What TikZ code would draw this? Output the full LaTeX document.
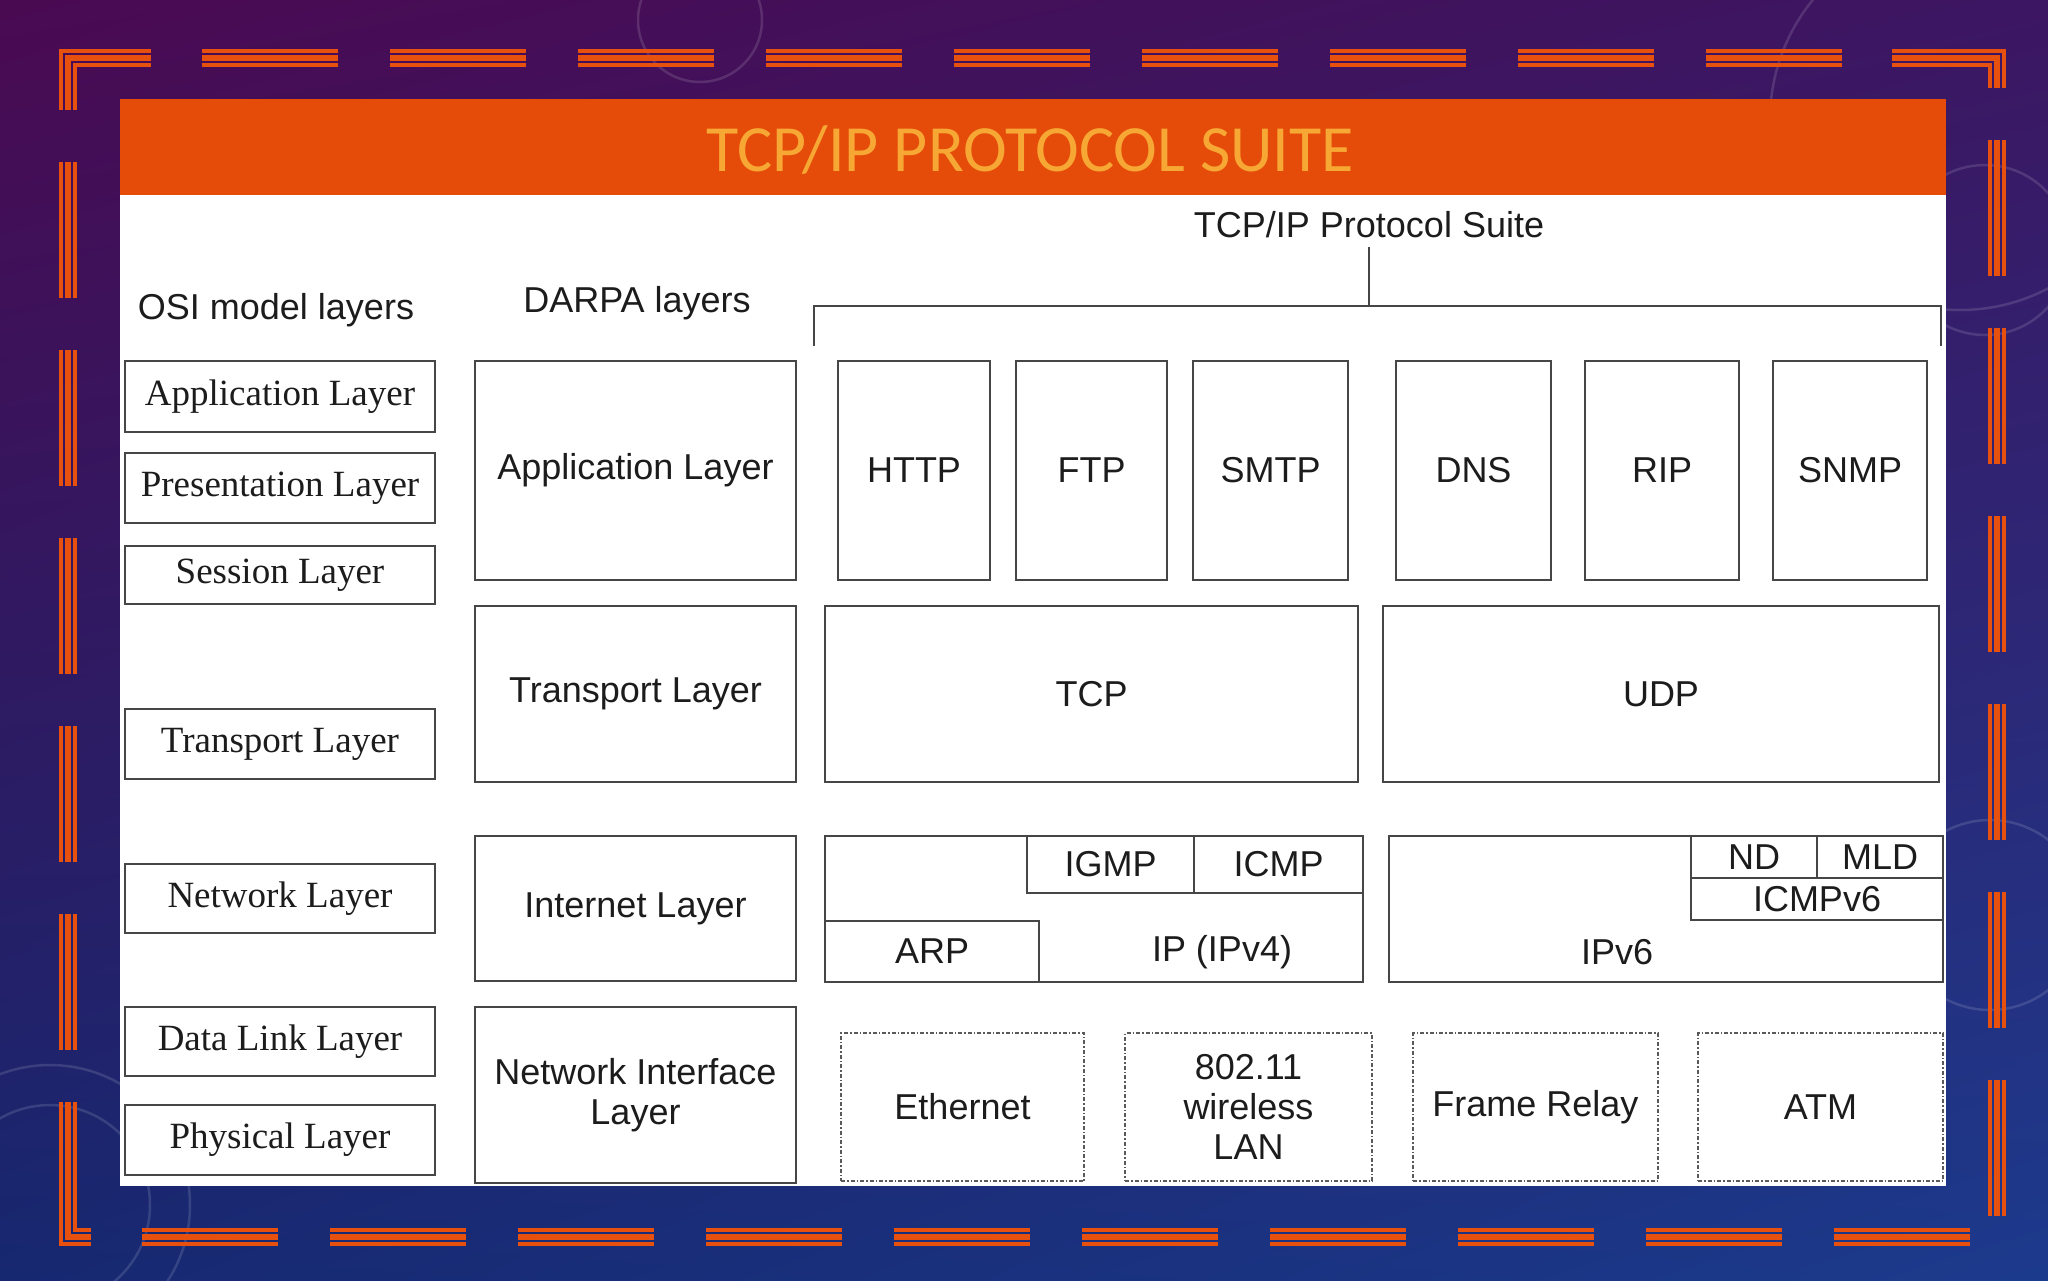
\documentclass[tikz,border=0pt]{standalone}
\usepackage{fontspec}
\usetikzlibrary{shadings}
\setmainfont{Liberation Sans}
\newfontfamily\osifont{Liberation Serif}
\newfontfamily\titlefont{Carlito}

\definecolor{framecol}{RGB}{232,80,14}
\definecolor{barcol}{RGB}{229,76,10}
\definecolor{titlecol}{RGB}{247,168,52}
\definecolor{linecol}{RGB}{70,70,70}
\definecolor{linkcol}{RGB}{90,90,90}
\definecolor{textcol}{RGB}{28,28,28}
\definecolor{bgtl}{RGB}{74,10,82}
\definecolor{bgtr}{RGB}{60,22,98}
\definecolor{bgbl}{RGB}{22,40,112}
\definecolor{bgbr}{RGB}{28,58,140}

\begin{document}
\begin{tikzpicture}[x=1pt, y=-1pt,
    layer/.style={draw=linecol, line width=2pt, text=textcol, inner sep=0pt,
        anchor=north west, align=center, font=\fontsize{36}{40}\selectfont},
    osilayer/.style={layer, font=\osifont\fontsize{37}{40}\selectfont},
    linklayer/.style={layer, draw=linkcol, dash pattern=on 4pt off 2pt on 1.5pt off 2pt},
    head/.style={text=textcol, inner sep=0pt, font=\fontsize{36}{40}\selectfont},
    bracket/.style={draw=linecol, line width=2pt},
    frameline/.style={draw=framecol},
    glow/.style={draw=white, opacity=0.13, line width=2.5pt}]

    \useasboundingbox (0,0) rectangle (2048,1280);

    %----- BACKGROUND -----
    \shade[upper left=bgtl, upper right=bgtr, lower left=bgbl, lower right=bgbr]
        (0,0) rectangle (2048,1280);
    \draw[glow] (700,20) circle (62);
    \draw[glow] (1985,250) circle (85);
    \draw[glow] (1960,120) circle (190);
    \draw[glow] (1990,915) circle (95);
    \draw[glow] (50,1205) circle (100);
    \draw[glow] (50,1205) circle (140);

    %----- ORANGE FRAME (three lines per dash) -----
    \foreach \o/\w in {2/3.5, 9/6.5, 16/3.5}{
        % corners
        \draw[frameline, line width=\w pt] (151,49+\o) -- (59+\o,49+\o) -- (59+\o,110);
        \draw[frameline, line width=\w pt] (1892,49+\o) -- (2006-\o,49+\o) -- (2006-\o,88);
        \draw[frameline, line width=\w pt] (59+\o,1102) -- (59+\o,1246-\o) -- (91,1246-\o);
        % top and bottom dashes
        \foreach \x in {202,390,...,1706}
            \draw[frameline, line width=\w pt] (\x,49+\o) -- ++(136,0);
        \foreach \x in {142,330,...,1834}
            \draw[frameline, line width=\w pt] (\x,1246-\o) -- ++(136,0);
        % left and right dashes
        \foreach \y in {162,350,...,914}
            \draw[frameline, line width=\w pt] (59+\o,\y) -- ++(0,136);
        \foreach \y in {140,328,...,1080}
            \draw[frameline, line width=\w pt] (2006-\o,\y) -- ++(0,136);
    }

    %----- SLIDE PANEL AND TITLE -----
    \fill[white] (120,99) rectangle (1946,1186);
    \fill[barcol] (120,99) rectangle (1946,195);
    \node[font=\titlefont\fontsize{66}{70}\selectfont, text=titlecol] (title) at (1030,150)
        {TCP/IP PROTOCOL SUITE};

    %----- COLUMN HEADINGS -----
    \node[head] (osihead) at (276,310) {OSI model layers};
    \node[head] (darpahead) at (637,303) {DARPA layers};
    \node[head] (suitehead) at (1369,225) {TCP/IP Protocol Suite};

    % bracket over the protocol suite
    \coordinate (brmid) at (1369,306);
    \coordinate (brleft) at (814,346);
    \coordinate (brright) at (1941,346);
    \draw[bracket] (suitehead.south) ++(0,9) -- (brmid);
    \draw[bracket] (brleft) -- ++(0,-40) -| (brright);

    %----- OSI MODEL LAYERS -----
    \node[osilayer, minimum width=310pt, minimum height=71pt] (osiapp) at (124,360) {Application Layer};
    \node[osilayer, minimum width=310pt, minimum height=70pt] (osipres) at (124,452) {Presentation Layer};
    \node[osilayer, minimum width=310pt, minimum height=58pt] (osisess) at (124,545) {Session Layer};
    \node[osilayer, minimum width=310pt, minimum height=70pt] (ositrans) at (124,708) {Transport Layer};
    \node[osilayer, minimum width=310pt, minimum height=69pt] (osinet) at (124,863) {Network Layer};
    \node[osilayer, minimum width=310pt, minimum height=69pt] (osidl) at (124,1006) {Data Link Layer};
    \node[osilayer, minimum width=310pt, minimum height=70pt] (osiphy) at (124,1104) {Physical Layer};

    %----- DARPA LAYERS -----
    \node[layer, minimum width=321pt, minimum height=219pt] (darapp) at (474,360) {Application Layer};
    \node[layer, minimum width=321pt, minimum height=176pt] (dartrans) at (474,605) {Transport Layer};
    \node[layer, minimum width=321pt, minimum height=145pt] (darnet) at (474,835) {Internet Layer};
    \node[layer, minimum width=321pt, minimum height=176pt] (darni) at (474,1006) {Network Interface\\Layer};

    %----- APPLICATION PROTOCOLS -----
    \node[layer, minimum width=152pt, minimum height=219pt] (http) at (837,360) {HTTP};
    \node[layer, minimum width=151pt, minimum height=219pt] (ftp) at (1015,360) {FTP};
    \node[layer, minimum width=155pt, minimum height=219pt] (smtp) at (1192,360) {SMTP};
    \node[layer, minimum width=155pt, minimum height=219pt] (dns) at (1395,360) {DNS};
    \node[layer, minimum width=154pt, minimum height=219pt] (rip) at (1584,360) {RIP};
    \node[layer, minimum width=154pt, minimum height=219pt] (snmp) at (1772,360) {SNMP};

    %----- TRANSPORT PROTOCOLS -----
    \node[layer, minimum width=533pt, minimum height=176pt] (tcp) at (824,605) {TCP};
    \node[layer, minimum width=556pt, minimum height=176pt] (udp) at (1382,605) {UDP};

    %----- INTERNET PROTOCOLS -----
    \node[layer, minimum width=538pt, minimum height=146pt] (ipv4) at (824,835) {};
    \node[layer, minimum width=167pt, minimum height=57pt] (igmp) at (1026,835) {IGMP};
    \node[layer, minimum width=169pt, minimum height=57pt] (icmp) at (1193,835) {ICMP};
    \node[layer, minimum width=214pt, minimum height=61pt] (arp) at (824,920) {ARP};
    \node[head] (ipv4lbl) at (1222,952) {IP (IPv4)};

    \node[layer, minimum width=554pt, minimum height=146pt] (ipv6) at (1388,835) {};
    \node[layer, minimum width=126pt, minimum height=42pt] (nd) at (1690,835) {ND};
    \node[layer, minimum width=126pt, minimum height=42pt] (mld) at (1816,835) {MLD};
    \node[layer, minimum width=252pt, minimum height=42pt] (icmpv6) at (1690,877) {ICMPv6};
    \node[head] (ipv6lbl) at (1617,952) {IPv6};

    %----- NETWORK INTERFACE TECHNOLOGIES -----
    \node[linklayer, minimum width=243pt, minimum height=148pt] (ether) at (840,1032) {Ethernet};
    \node[linklayer, minimum width=247pt, minimum height=148pt] (wlan) at (1124,1032) {802.11\\wireless\\LAN};
    \node[linklayer, minimum width=245pt, minimum height=148pt] (frelay) at (1412,1032) {Frame Relay};
    \node[linklayer, minimum width=245pt, minimum height=148pt] (atm) at (1697,1032) {ATM};

\end{tikzpicture}
\end{document}
